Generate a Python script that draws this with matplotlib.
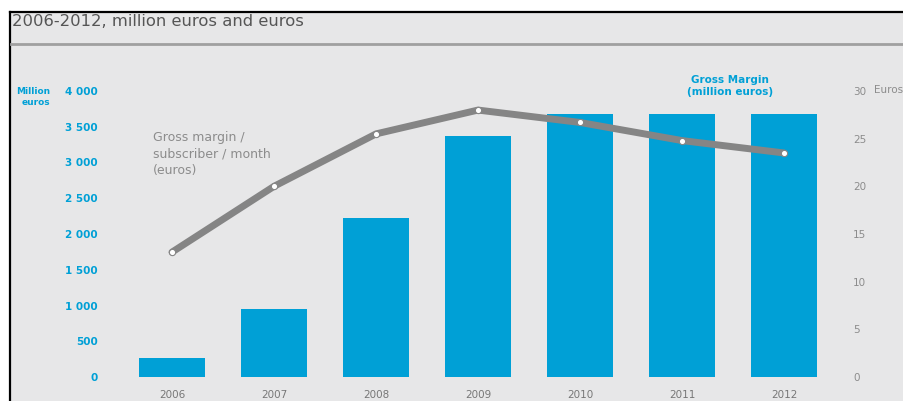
import numpy as np
import matplotlib.pyplot as plt
from matplotlib.lines import Line2D

# gross margin (million euros) and gross margin per subscriber per month (euros)
years = ['2006', '2007', '2008', '2009', '2010', '2011', '2012']
gross_margin = [270, 950, 2220, 3370, 3680, 3680, 3680]
margin_per_sub = [13.1, 20.0, 25.5, 28.0, 26.7, 24.8, 23.5]
left_ticks = [0, 500, 1000, 1500, 2000, 2500, 3000, 3500, 4000]
left_labels = ['0', '500', '1 000', '1 500', '2 000', '2 500', '3 000', '3 500', '4 000']
right_ticks = [0, 5, 10, 15, 20, 25, 30]

blue = '#00a0d6'
bg = '#e7e7e8'
grey_txt = '#8c8c8c'

W, H = 904, 401
fig = plt.figure(figsize=(W / 100, H / 100), dpi=100)
fig.patch.set_facecolor('white')

def fx(px):
    return px / W

def fy(py):
    return 1 - py / H

# grey panel with black frame on the top and left
panel = fig.add_axes([fx(10), 0, 1 - fx(10), fy(12)])
panel.set_facecolor(bg)
panel.set_xticks([])
panel.set_yticks([])
for s in ['right', 'bottom']:
    panel.spines[s].set_visible(False)
for s in ['top', 'left']:
    panel.spines[s].set_color('black')
    panel.spines[s].set_linewidth(1.6)

fig.text(fx(12), fy(22), '2006-2012, million euros and euros', fontsize=11.8,
         color='#555555', va='center', ha='left')
fig.add_artist(Line2D([fx(11), 1], [fy(44), fy(44)], color='#a0a0a0', lw=2))

ax = fig.add_axes([fx(120), fy(377), fx(835) - fx(120), fy(91) - fy(377)])
ax.patch.set_alpha(0)
x = np.arange(len(years))
ax.bar(x, gross_margin, width=0.64, color=blue, zorder=2)
ax.set_xlim(-0.51, 6.5)
ax.set_ylim(0, 4000)
ax.set_yticks(left_ticks)
ax.set_yticklabels(left_labels, color=blue, fontsize=7.5, fontweight='bold')
ax.set_xticks(x)
ax.set_xticklabels(years, color='#777777', fontsize=7.5)
ax.tick_params(axis='y', length=0, pad=16)
ax.tick_params(axis='x', length=0, pad=9)
for s in ax.spines.values():
    s.set_visible(False)

ax2 = ax.twinx()
ax2.plot(x, margin_per_sub, color='#858585', lw=5, solid_capstyle='round',
         marker='o', markersize=4.5, markerfacecolor='white',
         markeredgecolor='#858585', markeredgewidth=0.8, zorder=3)
ax2.set_ylim(0, 30)
ax2.set_yticks(right_ticks)
ax2.set_yticklabels([str(t) for t in right_ticks], color=grey_txt, fontsize=7.5)
ax2.tick_params(axis='y', length=0, pad=13)
for s in ax2.spines.values():
    s.set_visible(False)

fig.text(fx(50), fy(97), 'Million\neuros', color=blue, fontsize=6.5,
         fontweight='bold', ha='right', va='center', linespacing=1.3)
fig.text(fx(874), fy(90), 'Euros', color=grey_txt, fontsize=7.5,
         ha='left', va='center')
fig.text(fx(153), fy(154), 'Gross margin /\nsubscriber / month\n(euros)',
         color=grey_txt, fontsize=9, ha='left', va='center', linespacing=1.35)
fig.text(fx(730), fy(86), 'Gross Margin\n(million euros)', color=blue,
         fontsize=7.5, fontweight='bold', ha='center', va='center', linespacing=1.3)

fig.savefig('out.png', dpi=100, facecolor=fig.get_facecolor())
